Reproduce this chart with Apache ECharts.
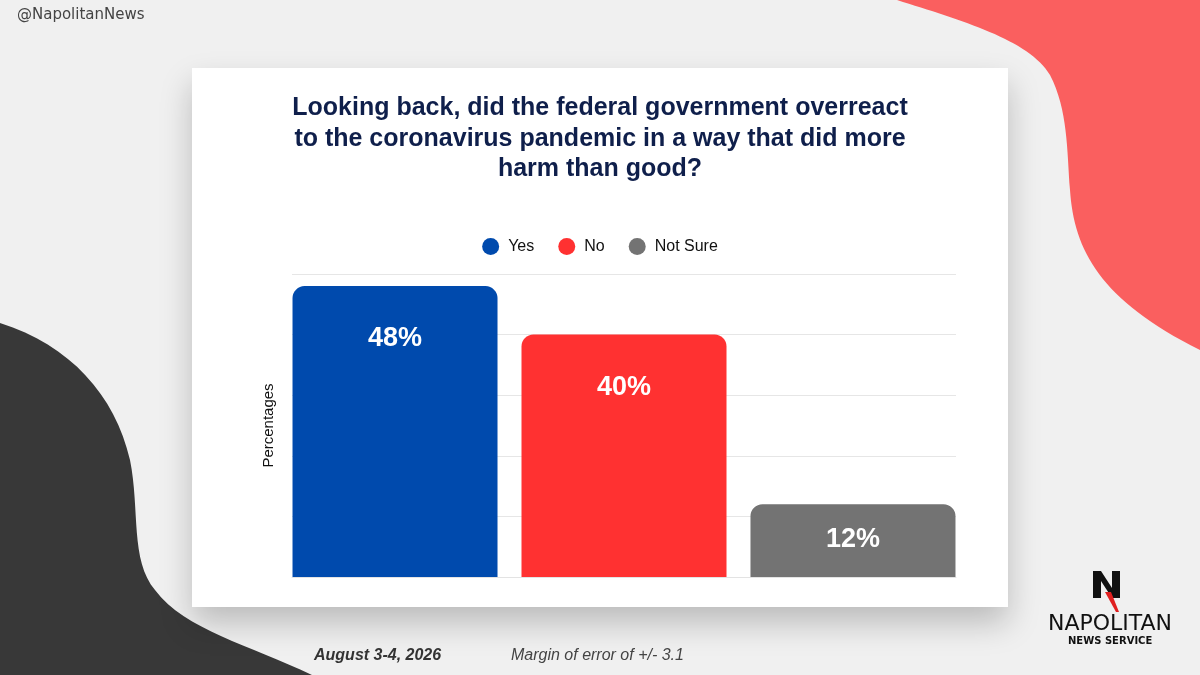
<!DOCTYPE html>
<html>
<head>
	<meta charset="UTF-8">
	<script src="https://cdn.jsdelivr.net/npm/echarts@6/dist/echarts.min.js"></script>
	<style>
		html, body { margin: 0; padding: 0; background: #f0f0f0; }
		#chart { width: 1200px; height: 675px; }
	</style>
</head>
<body>
<div id="chart"></div>

<script type="text/javascript">

	// data
	var categories = ['Yes', 'No', 'Not Sure']
	var values = [48, 40, 12]
	var barColors = ['#004aad', '#ff3131', '#737373']
	// how far down from the bar top the label sits
	var labelDistances = [39, 39, 22]

	var titleText = 'Looking back, did the federal government overreact\nto the coronavirus pandemic in a way that did more\nharm than good?'
	var sans = '"Liberation Sans", Arial, sans-serif'

	// background blobs as registered path shapes
	echarts.graphic.registerShape('redBlob', echarts.graphic.extendPath(
		'M897,0 C960,20 1030,40 1050,75 C1068,110 1067,150 1070,190 C1074,250 1100,300 1200,350 L1200,0 Z'
	))
	echarts.graphic.registerShape('darkBlob', echarts.graphic.extendPath(
		'M0,323 C70,345 115,395 130,460 C140,510 130,560 155,590 C185,630 250,645 312,675 L0,675 Z'
	))

	var myChart = echarts.init(document.getElementById('chart'))

	// one category, one series per answer, side by side
	var seriesList = []
	for (var i = 0; i < categories.length; i++) {
		seriesList.push({
			name: categories[i],
			type: 'bar',
			barWidth: 205,
			barGap: '11.7%',
			data: [{ value: values[i], label: { distance: labelDistances[i] } }],
			itemStyle: { color: barColors[i], borderRadius: [12, 12, 0, 0] },
			label: {
				show: true,
				position: 'insideTop',
				formatter: '{c}%',
				color: '#ffffff',
				fontFamily: sans,
				fontWeight: 'bold',
				fontSize: 27
			}
		})
	}

	var option = {
		backgroundColor: '#f0f0f0',
		animation: false,
		title: {
			text: titleText,
			left: 600,
			top: 93,
			textAlign: 'center',
			padding: 0,
			textStyle: {
				color: '#0f1f4b',
				fontFamily: sans,
				fontWeight: 'bold',
				fontSize: 25,
				lineHeight: 30.5
			}
		},
		legend: {
			data: categories,
			left: 'center',
			top: 233,
			icon: 'circle',
			itemWidth: 17,
			itemHeight: 17,
			itemGap: 24,
			textStyle: { color: '#111111', fontFamily: sans, fontSize: 16, padding: [0, 0, 0, 4] }
		},
		grid: { left: 292, right: 244, top: 274, bottom: 98 },
		xAxis: {
			type: 'category',
			data: [''],
			axisLine: { lineStyle: { color: '#e3e3e3' } },
			axisTick: { show: false },
			axisLabel: { show: false }
		},
		yAxis: {
			type: 'value',
			min: 0,
			max: 50,
			interval: 10,
			name: 'Percentages',
			nameLocation: 'middle',
			nameGap: 16,
			nameTextStyle: { color: '#111111', fontFamily: sans, fontSize: 15 },
			axisLabel: { show: false },
			axisLine: { show: false },
			axisTick: { show: false },
			splitLine: { lineStyle: { color: '#e6e6e6' } }
		},
		graphic: [
			{ type: 'redBlob', z: -10, silent: true, style: { fill: '#fa5f5f' } },
			{ type: 'darkBlob', z: -10, silent: true, style: { fill: '#383838' } },
			// white card with shadow
			{
				type: 'rect', z: -5, silent: true,
				shape: { x: 192, y: 68, width: 816, height: 539 },
				style: { fill: '#ffffff', shadowBlur: 30, shadowOffsetY: 16, shadowColor: 'rgba(0,0,0,0.22)' }
			},
			{
				type: 'text', left: 17, top: 8,
				style: { text: '@NapolitanNews', fill: '#444444', font: '15px "DejaVu Sans", sans-serif' }
			},
			{
				type: 'text', left: 314, top: 648,
				style: { text: 'August 3-4, 2026', fill: '#333333', font: 'italic bold 16px ' + sans }
			},
			{
				type: 'text', left: 511, top: 648,
				style: { text: 'Margin of error of +/- 3.1', fill: '#444444', font: 'italic 16px ' + sans }
			},
			// logo
			{
				type: 'polygon', silent: true,
				shape: { points: [[1093, 571], [1101, 571], [1112, 588], [1112, 571], [1120, 571], [1120, 598], [1112, 598], [1101, 581], [1101, 598], [1093, 598]] },
				style: { fill: '#111111' }
			},
			{
				type: 'polygon', silent: true,
				shape: { points: [[1105, 592], [1111, 592], [1119, 612], [1116, 612]] },
				style: { fill: '#e02020' }
			},
			{
				type: 'text', left: 1048, top: 613,
				style: { text: 'NAPOLITAN', fill: '#111111', font: '22px "DejaVu Sans", sans-serif' }
			},
			{
				type: 'text', left: 1068, top: 636,
				style: { text: 'NEWS SERVICE', fill: '#111111', font: 'bold 10px "DejaVu Sans", sans-serif' }
			}
		],
		series: seriesList
	}

	myChart.setOption(option)

</script>
</body>
</html>
